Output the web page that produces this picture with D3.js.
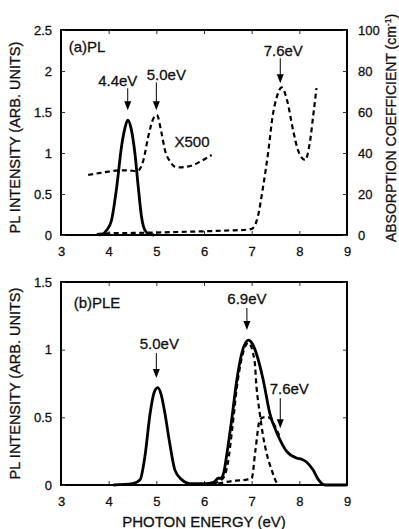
<!DOCTYPE html>
<html>
<head>
<meta charset="utf-8">
<script src="https://cdn.jsdelivr.net/npm/d3@7"></script>
<style>
body { margin: 0; background: #fff; }
text { font-family: "Liberation Sans", Arial, sans-serif; fill: #111; stroke: #111; stroke-width: 0.3px; }
</style>
</head>
<body>
<div id="svg"></div>
<script>
// (a) PL spectrum, left axis (arb. units)
let plE = [3.8, 3.9, 3.96, 4.06, 4.17, 4.27, 4.34, 4.4, 4.47, 4.55, 4.62, 4.69, 4.76, 4.85, 4.95]
let plV = [0.0, 0.02, 0.06, 0.18, 0.59, 1.08, 1.3, 1.4, 1.3, 1.0, 0.59, 0.22, 0.06, 0.01, 0.0]

// (a) absorption x500, right axis units
let absX500E = [3.57, 3.8, 4.0, 4.2, 4.4, 4.6, 4.73, 4.83, 4.94, 5.01, 5.11, 5.18, 5.29, 5.39, 5.5, 5.64, 5.8, 5.92, 6.05, 6.16]
let absX500V = [29.3, 30.2, 30.9, 31.5, 31.5, 31.2, 36.6, 48, 56.9, 58.5, 49.6, 41.5, 35.8, 33.3, 33, 33.3, 34.4, 35.8, 37.5, 39]

// (a) absorption coefficient, right axis (cm-1)
let absE = [3.75, 4.0, 4.5, 5.0, 5.5, 6.0, 6.5, 6.9, 7.0, 7.13, 7.24, 7.35, 7.44, 7.53, 7.63, 7.74, 7.87, 7.97, 8.12, 8.22, 8.29, 8.36]
let absV = [0.5, 0.8, 1.0, 1.2, 1.5, 1.8, 2.2, 2.6, 3.0, 9, 23.6, 41, 58, 67.5, 72, 66, 51, 41.5, 36.6, 45, 58, 71.6]

// (b) PLE spectrum
let pleE = [4.1, 4.5, 4.66, 4.76, 4.87, 4.95, 5.03, 5.1, 5.18, 5.28, 5.39, 5.53, 5.7, 6.0, 6.2, 6.3, 6.36, 6.42, 6.48, 6.58, 6.69, 6.79, 6.93, 7.02, 7.1, 7.24, 7.38, 7.56, 7.73, 7.94, 8.05, 8.15, 8.29, 8.4, 8.54, 9.0]
let pleV = [0.0, 0.01, 0.04, 0.21, 0.53, 0.68, 0.72, 0.67, 0.53, 0.31, 0.11, 0.04, 0.01, 0.01, 0.02, 0.05, 0.05, 0.1, 0.23, 0.48, 0.78, 0.97, 1.07, 1.04, 0.97, 0.78, 0.53, 0.36, 0.25, 0.2, 0.19, 0.17, 0.11, 0.04, 0.0, 0.0]

// (b) decomposed components
let comp69E = [6.2, 6.4, 6.5, 6.6, 6.7, 6.8, 6.93, 7.06, 7.1, 7.17, 7.24, 7.31, 7.42, 7.52, 7.6]
let comp69V = [0.01, 0.05, 0.16, 0.44, 0.75, 0.95, 1.05, 0.92, 0.73, 0.53, 0.36, 0.24, 0.11, 0.02, 0.0]
let comp76E = [6.3, 6.6, 6.9, 7.0, 7.08, 7.17, 7.25, 7.35, 7.42, 7.52, 7.6]
let comp76V = [0.01, 0.03, 0.04, 0.05, 0.26, 0.48, 0.5, 0.5, 0.48, 0.41, 0.35]

// tick labels
let xTicks = [3, 4, 5, 6, 7, 8, 9]
let yTicksA = [0, 0.5, 1, 1.5, 2, 2.5]
let yTicksAR = [0, 20, 40, 60, 80, 100]
let yTicksB = [0, 0.5, 1, 1.5]

// annotations: label, energy, arrow tip value
let annA = ['4.4eV', '5.0eV', '7.6eV']
let annAE = [4.4, 5.0, 7.6]
let annATip = [1.52, 1.52, 1.85]
let annB = ['5.0eV', '6.9eV', '7.6eV']
let annBE = [5.0, 6.9, 7.6]
let annBTip = [0.79, 1.145, 0.42]

let width = 399, height = 529

let svg = d3.select('#svg')
.append('svg')
.attr('width', width)
.attr('height', height)

let x = d3.scaleLinear().domain([3, 9]).range([61, 347])
let yA = d3.scaleLinear().domain([0, 2.5]).range([235, 30])
let yAR = d3.scaleLinear().domain([0, 100]).range([235, 30])
let yB = d3.scaleLinear().domain([0, 1.5]).range([485, 282])

let fmt = d => String(d)

function frame(y) {
	let [b, t] = y.range()
	// inward ticks on all four sides
	svg.append('g')
	.attr('transform', `translate(0, ${b})`)
	.call(d3.axisBottom(x).tickValues(xTicks).tickSize(-4).tickPadding(12).tickFormat(fmt))
	svg.append('g')
	.attr('transform', `translate(0, ${t})`)
	.call(d3.axisTop(x).tickValues(xTicks).tickSize(-4).tickFormat(''))
	svg.selectAll('.domain').remove()
	svg.append('rect')
	.attr('x', x(3)).attr('y', t)
	.attr('width', x(9) - x(3)).attr('height', b - t)
	.style('fill', 'none').style('stroke', '#000').style('stroke-width', 2)
}

function line(xs, vs, y) {
	return d3.line()
	.x(d => x(d[0]))
	.y(d => y(d[1]))
	.curve(d3.curveMonotoneX)(d3.zip(xs, vs))
}

function arrow(e, tipY, len) {
	let px = x(e)
	svg.append('line')
	.attr('x1', px).attr('x2', px)
	.attr('y1', tipY - len).attr('y2', tipY - 7)
	.style('stroke', '#000').style('stroke-width', 1)
	svg.append('path')
	.attr('d', `M${px - 3.5},${tipY - 9}L${px + 3.5},${tipY - 9}L${px},${tipY}Z`)
	.style('fill', '#000')
}

function label(txt, px, py, size) {
	return svg.append('text')
	.text(txt)
	.attr('x', px).attr('y', py)
	.attr('dy', '0.35em')
	.style('text-anchor', 'middle')
	.style('font-size', size)
}

// ---------- panel (a)
frame(yA)
svg.append('g')
.attr('transform', `translate(${x(3)}, 0)`)
.call(d3.axisLeft(yA).tickValues(yTicksA).tickSize(-4).tickPadding(9).tickFormat(fmt))
svg.append('g')
.attr('transform', `translate(${x(9)}, 0)`)
.call(d3.axisRight(yAR).tickValues(yTicksAR).tickSize(-4).tickPadding(11).tickFormat(fmt))

svg.append('path')
.attr('d', line(absE, absV, yAR))
.style('fill', 'none').style('stroke', '#000').style('stroke-width', 2.2).style('stroke-dasharray', '5,3.5')
svg.append('path')
.attr('d', line(absX500E, absX500V, yAR))
.style('fill', 'none').style('stroke', '#000').style('stroke-width', 2.2).style('stroke-dasharray', '5,3.5')
svg.append('path')
.attr('d', line(plE, plV, yA))
.style('fill', 'none').style('stroke', '#000').style('stroke-width', 2.8)

let offA = [{len: 22, dx: -10}, {len: 28, dx: 10}, {len: 25, dx: 3}]
annA.forEach((t, i) => {
	let tip = yA(annATip[i])
	arrow(annAE[i], tip, offA[i].len)
	label(t, x(annAE[i]) + offA[i].dx, tip - offA[i].len - 8, 15)
})
label('X500', 192, 142, 15)
label('(a)PL', 87, 47, 15)

svg.append('text')
.attr('transform', `translate(20, ${(yA(0) + yA(2.5)) / 2 + 5})rotate(-90)`)
.style('text-anchor', 'middle')
.style('font-size', 14.5)
.text('PL INTENSITY (ARB. UNITS)')

let rt = svg.append('text')
.attr('transform', `translate(396, 128)rotate(-90)`)
.style('text-anchor', 'middle')
.style('font-size', 14)
rt.append('tspan').text('ABSORPTION COEFFICIENT (cm')
rt.append('tspan').text('-1').attr('dy', -5).style('font-size', 8.5)
rt.append('tspan').text(')').attr('dy', 5)

// ---------- panel (b)
frame(yB)
svg.append('g')
.attr('transform', `translate(${x(3)}, 0)`)
.call(d3.axisLeft(yB).tickValues(yTicksB).tickSize(-4).tickPadding(9).tickFormat(fmt))
svg.append('g')
.attr('transform', `translate(${x(9)}, 0)`)
.call(d3.axisRight(yB).tickValues(yTicksB).tickSize(-4).tickFormat(''))
svg.selectAll('.domain').remove()

svg.append('path')
.attr('d', line(comp69E, comp69V, yB))
.style('fill', 'none').style('stroke', '#000').style('stroke-width', 2.2).style('stroke-dasharray', '5,3.5')
svg.append('path')
.attr('d', line(comp76E, comp76V, yB))
.style('fill', 'none').style('stroke', '#000').style('stroke-width', 2.2).style('stroke-dasharray', '5,3.5')
svg.append('path')
.attr('d', line(pleE, pleV, yB))
.style('fill', 'none').style('stroke', '#000').style('stroke-width', 2.8)

let offB = [{len: 25, dx: 3}, {len: 22, dx: 0}, {len: 30, dx: 9}]
annB.forEach((t, i) => {
	let tip = yB(annBTip[i])
	arrow(annBE[i], tip, offB[i].len)
	label(t, x(annBE[i]) + offB[i].dx, tip - offB[i].len - 9, 15)
})
label('(b)PLE', 97, 303, 15)

svg.append('text')
.attr('transform', `translate(20, ${(yB(0) + yB(1.5)) / 2})rotate(-90)`)
.style('text-anchor', 'middle')
.style('font-size', 14.5)
.text('PL INTENSITY (ARB. UNITS)')

svg.append('text')
.attr('transform', `translate(${(x(3) + x(9)) / 2}, 522)`)
.attr('dy', '0.35em')
.style('text-anchor', 'middle')
.style('font-size', 15)
.text('PHOTON ENERGY (eV)')

svg.selectAll('.tick text').style('font-size', 13).style('font-family', '"Liberation Sans", Arial, sans-serif').style('fill', '#111')
svg.selectAll('.tick line').style('stroke', '#333')
</script>
</body>
</html>
